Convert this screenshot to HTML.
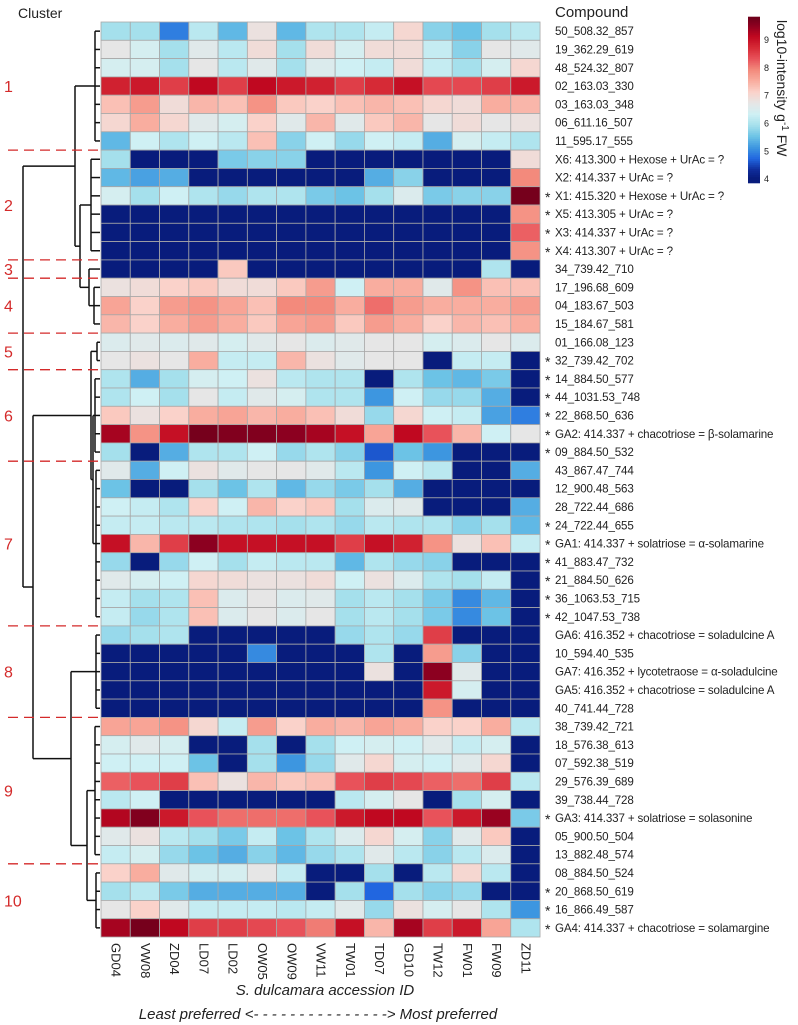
<!DOCTYPE html>
<html><head><meta charset="utf-8"><style>
html,body{margin:0;padding:0;background:#fff;}
svg{display:block;font-family:"Liberation Sans",sans-serif;}
</style></head><body>
<svg id="chart" width="798" height="1025" viewBox="0 0 798 1025" xmlns="http://www.w3.org/2000/svg">
<text x="18" y="18" font-size="14" fill="#222">Cluster</text>
<text x="555" y="17" font-size="15" fill="#222">Compound</text>
<g id="dendro"></g>
<g id="cells"></g>
<g id="rowlabels"></g>
<g id="collabels"></g>
<g id="clusters"></g>
<g id="cbar"></g>
<text x="325" y="995" font-size="15" font-style="italic" text-anchor="middle" fill="#222">S. dulcamara accession ID</text>
<text x="318" y="1019" font-size="15" font-style="italic" text-anchor="middle" fill="#222">Least preferred &lt;- - - - - - - - - - - - - - -&gt; Most preferred</text>
</svg>
<script>
const columns = ["GD04","VW08","ZD04","LD07","LD02","OW05","OW09","VW11","TW01","TD07","GD10","TW12","FW01","FW09","ZD11"];
const compounds = ["50_508.32_857","19_362.29_619","48_524.32_807","02_163.03_330","03_163.03_348","06_611.16_507","11_595.17_555",
"X6: 413.300 + Hexose + UrAc = ?","X2: 414.337 + UrAc = ?","X1: 415.320 + Hexose + UrAc = ?","X5: 413.305 + UrAc = ?","X3: 414.337 + UrAc = ?","X4: 413.307 + UrAc = ?",
"34_739.42_710","17_196.68_609","04_183.67_503","15_184.67_581","01_166.08_123","32_739.42_702","14_884.50_577","44_1031.53_748","22_868.50_636",
"GA2: 414.337 + chacotriose = β-solamarine","09_884.50_532","43_867.47_744","12_900.48_563","28_722.44_686","24_722.44_655",
"GA1: 414.337 + solatriose = α-solamarine","41_883.47_732","21_884.50_626","36_1063.53_715","42_1047.53_738",
"GA6: 416.352 + chacotriose = soladulcine A","10_594.40_535","GA7: 416.352 + lycotetraose = α-soladulcine","GA5: 416.352 + chacotriose = soladulcine A","40_741.44_728",
"38_739.42_721","18_576.38_613","07_592.38_519","29_576.39_689","39_738.44_728","GA3: 414.337 + solatriose = solasonine","05_900.50_504","13_882.48_574",
"08_884.50_524","20_868.50_619","16_866.49_587","GA4: 414.337 + chacotriose = solamargine"];
const starred = [10,11,12,13,19,20,21,22,23,24,28,29,30,31,32,33,44,48,49,50];
const values = [
[5.9,5.9,4.9,6.1,5.4,6.8,5.4,6.0,6.0,6.2,7.0,5.7,5.5,5.9,6.1],
[6.7,6.4,5.9,6.6,6.1,6.9,5.9,6.9,6.4,6.9,6.9,6.2,5.7,6.7,6.6],
[6.4,6.4,5.9,6.7,6.1,6.6,5.9,6.5,6.3,6.2,6.9,6.2,5.9,6.4,7.0],
[8.8,8.9,8.5,9.1,8.5,9.1,8.9,8.8,8.5,8.7,9.0,8.4,8.4,8.5,8.9],
[7.3,7.7,6.9,7.4,7.3,7.8,7.2,7.1,7.3,7.4,7.3,7.0,6.9,7.5,7.4],
[7.0,7.5,7.0,6.6,6.4,7.1,6.6,7.4,6.6,7.2,7.4,6.7,6.9,6.7,6.8],
[5.4,6.3,6.0,6.3,6.1,7.3,5.7,6.3,5.8,6.3,6.2,5.3,6.4,6.2,6.0],
[5.9,4,4,4,5.6,5.7,5.7,4,4,4,4,4,4,4,6.9],
[5.4,5.2,5.3,4,4,4,4,4,4,5.3,5.7,4,4,4,7.9],
[6.4,5.9,6.3,6.0,5.8,6.0,6.0,5.6,5.5,5.9,6.5,5.6,5.7,5.7,9.7],
[4,4,4,4,4,4,4,4,4,4,4,4,4,4,7.8],
[4,4,4,4,4,4,4,4,4,4,4,4,4,4,8.2],
[4,4,4,4,4,4,4,4,4,4,4,4,4,4,7.8],
[4,4,4,4,7.2,4,4,4,4,4,4,4,4,6.0,4],
[6.8,6.9,7.1,7.2,6.9,6.9,7.2,7.7,6.3,7.5,7.5,6.6,7.8,7.3,7.3],
[7.6,7.1,7.7,7.8,7.6,7.3,7.9,7.9,7.5,8.1,7.7,7.5,7.5,7.5,7.7],
[7.4,7.1,7.5,7.7,7.5,7.2,7.6,7.7,7.2,7.7,7.5,7.1,7.4,7.3,7.5],
[6.5,6.6,6.5,6.6,6.4,6.6,6.7,6.5,6.6,6.7,6.7,6.4,6.5,6.7,6.5],
[6.7,6.8,6.7,7.5,6.2,6.2,7.4,6.8,6.6,6.7,6.7,4,6.2,6.2,4],
[6.0,5.3,5.9,6.4,6.3,6.8,6.1,6.0,6.0,4,6.0,5.5,5.4,5.6,4],
[6.0,6.3,5.9,6.7,6.2,6.6,6.4,6.0,6.0,5.1,6.3,5.8,5.8,5.3,4],
[7.2,6.8,7.1,7.5,7.6,7.4,7.5,7.3,6.9,5.8,7.0,6.3,6.2,5.2,4.9],
[9.3,7.8,9.0,9.7,9.6,9.6,9.5,9.3,9.0,7.6,9.1,8.3,7.4,6.3,6.7],
[5.9,4,5.3,6.0,6.0,6.3,5.8,6.0,5.7,4.6,5.5,5.1,4,4,4],
[6.6,5.3,6.3,6.8,6.6,6.7,6.7,6.6,6.1,5.1,6.3,6.1,4,4,5.3],
[5.5,4,4,5.9,5.5,6.0,5.4,5.8,5.6,5.9,5.3,4,4,4,4],
[6.3,6.2,6.0,7.1,6.3,7.4,7.1,7.2,5.9,6.5,6.6,4,4,4,5.3],
[6.2,6.2,6.1,6.1,6.0,6.0,5.9,6.0,5.8,6.1,6.0,6.0,5.7,5.9,5.4],
[9.0,7.4,8.5,9.5,9.0,9.0,9.0,9.0,8.5,9.0,8.8,7.8,6.8,7.3,6.2],
[5.8,4,5.8,6.3,5.9,6.2,6.1,6.1,5.4,6.0,5.8,5.7,4,4,4],
[6.6,6.4,6.3,7.0,6.9,6.8,6.8,6.9,6.3,6.8,6.5,6.0,5.9,6.2,4],
[6.2,5.9,6.0,7.3,6.5,6.7,6.5,6.6,5.9,6.1,5.9,5.6,5.0,5.4,4],
[6.2,5.8,6.0,7.3,6.5,6.7,6.5,6.7,5.9,6.1,5.9,5.6,5.0,5.5,4],
[5.8,5.9,6.0,4,4,4,4,4,5.8,6.0,5.8,8.5,4,4,4],
[4,4,4,4,4,5.0,4,4,4,6.0,4,7.7,5.7,4,4],
[4,4,4,4,4,4,4,4,4,6.8,4,9.5,6.6,4,4],
[4,4,4,4,4,4,4,4,4,4,4,8.9,6.4,4,4],
[4,4,4,4,4,4,4,4,4,4,4,7.8,4,4,4],
[7.6,7.6,7.8,7.0,6.2,7.7,7.1,7.5,7.4,7.6,7.5,7.1,7.1,7.5,6.1],
[6.4,6.6,6.4,4,4,5.9,4,5.9,6.3,6.4,6.3,6.6,6.2,6.4,4],
[6.3,6.3,6.3,5.5,4,5.9,5.1,5.8,6.6,7.0,6.4,6.3,6.6,7.0,4],
[8.2,8.3,8.5,7.3,6.8,7.4,7.2,7.3,8.3,8.5,8.4,8.2,8.1,8.5,6.1],
[6.1,6.3,4,4,4,4,4,4,6.1,6.4,6.7,4,5.9,6.4,4],
[9.2,9.6,8.9,8.3,8.1,8.1,8.1,8.3,8.9,9.1,9.1,8.3,8.9,9.4,5.6],
[6.6,6.8,6.1,5.9,5.6,6.2,5.5,6.0,6.5,7.0,6.4,5.7,6.6,7.2,4],
[6.2,6.4,5.8,5.5,5.3,5.7,5.4,5.8,6.0,6.6,6.1,5.7,6.1,6.5,4],
[7.1,7.5,6.6,6.4,6.4,6.7,6.2,4,4,5.9,4,6.1,7.0,6.1,4],
[5.9,6.1,5.6,5.3,5.3,5.3,5.3,4,5.9,4.7,5.9,5.7,5.8,4,4],
[6.7,7.1,6.6,6.2,6.2,6.2,6.1,6.2,6.6,5.8,6.8,6.4,6.7,6.0,5.1],
[9.3,9.7,9.1,8.5,8.5,8.4,8.3,8.0,9.0,7.4,9.3,8.5,8.9,7.6,6.0]];
const cbarTicks = [4,5,6,7,8,9];
const clusterNames = ["1","2","3","4","5","6","7","8","9","10"];
const clusterStarts = [0,7,13,14,17,19,24,33,38,46];
const clusterEnds = [6,12,13,16,18,23,32,37,45,49];

const NS="http://www.w3.org/2000/svg";
const L=101, T=22, CW=29.27, RH=18.3, VMIN=3.86, VMAX=9.83;
const stops=[[4.0,"#081c7c"],[4.3,"#0f2c9a"],[4.7,"#2166e0"],[5.1,"#3d96e0"],[5.5,"#6cc3e6"],[5.9,"#a5e0ec"],[6.3,"#cff0f4"],[6.7,"#e6e6e6"],[7.1,"#fad2ca"],[7.5,"#f9ad9f"],[7.9,"#f38a7c"],[8.3,"#e8525a"],[8.7,"#d62a36"],[9.1,"#c00820"],[9.5,"#8c0020"],[9.9,"#600018"]];
function hx(c){return [parseInt(c.substr(1,2),16),parseInt(c.substr(3,2),16),parseInt(c.substr(5,2),16)];}
function color(v){
  if(v<=stops[0][0])return stops[0][1];
  for(let i=1;i<stops.length;i++){if(v<=stops[i][0]){const a=hx(stops[i-1][1]),b=hx(stops[i][1]),t=(v-stops[i-1][0])/(stops[i][0]-stops[i-1][0]);
    return "rgb("+a.map((x,k)=>Math.round(x+(b[k]-x)*t)).join(",")+")";}}
  return stops[stops.length-1][1];
}
const xs=i=>L+i*CW, ys=r=>T+r*RH;
function mk(tag,attrs,parent){const e=document.createElementNS(NS,tag);for(const k in attrs)e.setAttribute(k,attrs[k]);parent.appendChild(e);return e;}

const cells=document.getElementById("cells");
values.forEach((row,r)=>row.forEach((v,c)=>{
  const e=mk("rect",{x:xs(c),y:ys(r),width:CW,height:RH,fill:color(v),stroke:"#a8a8a8","stroke-width":0.8},cells);
  
  
}));

const rl=document.getElementById("rowlabels");
compounds.forEach((s,r)=>{
  const y=ys(r)+RH/2+4;
  if(starred.includes(r+1)){const a=mk("text",{x:545,y:y+2,"font-size":14,fill:"#222"},rl);a.textContent="*";
    
    }
  const t=mk("text",{x:555,y:y,"font-size":11.6,"letter-spacing":"-0.15",fill:"#222"},rl);t.textContent=s;
  
  
});

const cl=document.getElementById("collabels");
columns.forEach((s,i)=>{
  const cx=xs(i)+CW/2-4, y0=ys(50)+6;
  const t=mk("text",{x:cx,y:y0,"font-size":13,fill:"#222",transform:"rotate(90 "+cx+" "+y0+")"},cl);t.textContent=s;
  
  
});

const cg=document.getElementById("clusters");
clusterNames.forEach((n,i)=>{
  const yc=(ys(clusterStarts[i])+ys(clusterEnds[i]+1))/2+6;
  const t=mk("text",{x:4,y:yc,"font-size":16,fill:"#d42a2a"},cg);t.textContent=n;
  
  
  if(i>0){const yb=ys(clusterStarts[i]);
    const l=mk("line",{x1:8,y1:yb,x2:98,y2:yb,stroke:"#d42a2a","stroke-width":1.3,"stroke-dasharray":"10,6"},cg);
    
    }
});

const dg=document.getElementById("dendro");
function line(x1,y1,x2,y2){const l=mk("line",{x1:x1,y1:y1,x2:x2,y2:y2,stroke:"#111","stroke-width":1.5},dg);
  
  }
function comb(a,b,h){
  if(a===b)return {x:L-1,y:ys(a)+RH/2};
  const x=L-1-h;
  for(let r=a;r<=b;r++)line(L-1,ys(r)+RH/2,x,ys(r)+RH/2);
  line(x,ys(a)+RH/2,x,ys(b)+RH/2);
  return {x:x,y:(ys(a)+ys(b+1))/2};
}
function join(p,q,h){const x=L-1-h;line(p.x,p.y,x,p.y);line(q.x,q.y,x,q.y);line(x,p.y,x,q.y);return {x:x,y:(p.y+q.y)/2};}
const c=clusterStarts.map((s,i)=>comb(s,clusterEnds[i],[5,9,0,6,3,5,4,4,5,4][i]));
const A3=join(c[2],c[3],11), A2=join(c[1],A3,20), A=join(c[0],A2,25);
const B1b=join(c[5],c[6],7), B1=join(c[4],B1b,9);
const B2b=join(c[8],c[9],13), B2=join(c[7],B2b,29);
const B=join(B1,B2,67); join(A,B,77);

const cb=document.getElementById("cbar");
const CBT=17,CBB=183,CBX=748,CBW=12;
const cy=v=>CBB-(v-VMIN)/(VMAX-VMIN)*(CBB-CBT);
for(let i=0;i<83;i++){const v0=VMIN+(VMAX-VMIN)*i/83;
  const r=mk("rect",{x:CBX,y:cy(v0)-(CBB-CBT)/83-0.3,width:CBW,height:(CBB-CBT)/83+0.6,fill:color(v0)},cb);
  
  }
cbarTicks.forEach(v=>{const t=mk("text",{x:764,y:cy(v)+3,"font-size":9,fill:"#222"},cb);t.textContent=v;
  
  });
const ct=mk("text",{x:777,y:20,"font-size":14,fill:"#222",transform:"rotate(90 777 20)"},cb);


ct.innerHTML='log10-intensity  g<tspan font-size="10" dy="-5">-1</tspan><tspan dy="5"> FW</tspan>';
</script>
</body></html>
